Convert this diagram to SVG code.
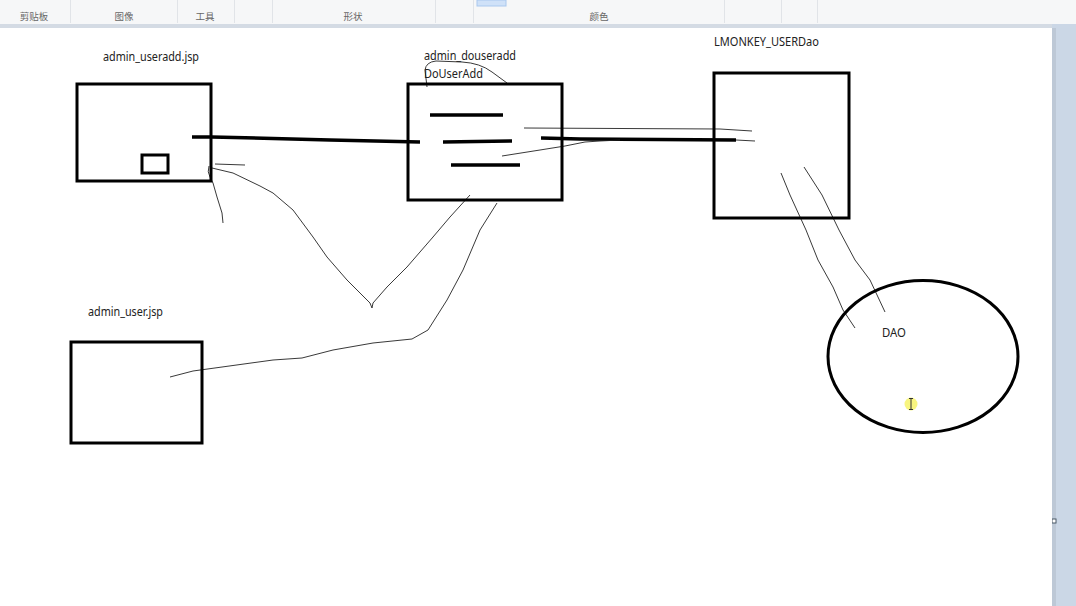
<svg xmlns="http://www.w3.org/2000/svg" width="1076" height="606" viewBox="0 0 1076 606">
  <style>
    .box { fill: none; stroke: #000; stroke-width: 3; }
    .thick { fill: none; stroke: #000; stroke-width: 3.5; stroke-linecap: butt; }
    .thin { fill: none; stroke: #222; stroke-width: 0.9; stroke-linejoin: round; }
    .lbl { font-family: "Noto Sans", "Open Sans", "Liberation Sans", sans-serif; font-size: 12px; fill: #222; }
    .ui { font-family: "Noto Sans CJK SC", "Noto Sans", sans-serif; font-size: 9.5px; fill: #666; text-anchor: middle; }
    .sep { stroke: #e1e4e8; stroke-width: 1; }
  </style>

  <!-- application chrome -->
  <g id="toolbar">
    <rect x="0" y="0" width="1076" height="24" fill="#f6f7f8"/>
    <rect x="0" y="24" width="1076" height="4" fill="#d4dbe4"/>
    <rect x="477" y="0" width="29" height="6" fill="#cfe1f8" stroke="#a9c8ee" stroke-width="1"/>
    <line class="sep" x1="70.5" y1="0" x2="70.5" y2="23"/>
    <line class="sep" x1="177.5" y1="0" x2="177.5" y2="23"/>
    <line class="sep" x1="234.5" y1="0" x2="234.5" y2="23"/>
    <line class="sep" x1="272.5" y1="0" x2="272.5" y2="23"/>
    <line class="sep" x1="435.5" y1="0" x2="435.5" y2="23"/>
    <line class="sep" x1="473.5" y1="0" x2="473.5" y2="23"/>
    <line class="sep" x1="724.5" y1="0" x2="724.5" y2="23"/>
    <line class="sep" x1="781.5" y1="0" x2="781.5" y2="23"/>
    <line class="sep" x1="817.5" y1="0" x2="817.5" y2="23"/>
    <text class="ui" x="34" y="20">剪贴板</text>
    <text class="ui" x="124" y="20">图像</text>
    <text class="ui" x="205" y="20">工具</text>
    <text class="ui" x="353" y="20">形状</text>
    <text class="ui" x="599" y="20">颜色</text>
  </g>
  <g id="sidepanel">
    <rect x="1052" y="24" width="24" height="582" fill="#cbd7e6"/>
    <rect x="1052" y="28" width="4" height="578" fill="#bdc8d6"/>
    <rect x="1052" y="519" width="4" height="4" fill="#fff" stroke="#4a5866" stroke-width="1"/>
  </g>
  <rect id="canvas" x="0" y="28" width="1052" height="578" fill="#ffffff"/>

  <!-- connectors -->
  <g id="connectors">
    <path class="thick" d="M192,137 L212,137 L330,140 L420,142"/>
    <path class="thick" d="M541,138 L580,139 L736,140"/>
    <path class="thin" d="M524,128 L720,129 L752,131"/>
    <path class="thin" d="M502,156 L540,150 L565,146 L585,142 L600,141 L620,140"/>
    <path class="thin" stroke="#999" d="M736,140 L755,141"/>
    <path class="thin" d="M427,87 L425,70 Q426,62 436,61 L462,62 Q480,63 492,72 L507,83"/>
    <path class="thin" d="M215,164 L245,165"/>
    <path class="thin" d="M209,166 Q207,172 210,177 L213,183 L217,197 L222,213 L223,223"/>
    <path class="thin" d="M212,168 L233,173 L260,186 L273,193 L293,210 L313,237 L327,257 L347,280 L370,303 L372,308 L373,303 L387,287 L407,267 L433,237 L450,217 L470,195"/>
    <path class="thin" d="M497,203 L480,230 L463,270 L447,300 L428,330 L412,339 L373,343 L333,350 L302,358 L273,360 L193,371 L170,377"/>
    <path class="thin" d="M781,173 L790,195 L806,230 L818,260 L833,287 L843,310 L855,328"/>
    <path class="thin" d="M804,167 L822,195 L839,230 L855,260 L870,280 L885,312"/>
  </g>

  <!-- nodes -->
  <g id="admin_useradd">
    <rect class="box" x="77" y="84" width="134" height="97"/>
    <rect class="box" x="142" y="155" width="26" height="18" stroke-width="2.5"/>
    <text class="lbl" x="103" y="61" textLength="96" lengthAdjust="spacingAndGlyphs">admin_useradd.jsp</text>
  </g>
  <g id="admin_douseradd">
    <rect class="box" x="408" y="84" width="154" height="116"/>
    <line class="thick" x1="430" y1="115" x2="503" y2="115"/>
    <line class="thick" x1="443" y1="142" x2="512" y2="141"/>
    <line class="thick" x1="451" y1="165" x2="520" y2="165"/>
    <text class="lbl" x="424" y="60" textLength="92" lengthAdjust="spacingAndGlyphs">admin_douseradd</text>
    <text class="lbl" x="424" y="78" textLength="59" lengthAdjust="spacingAndGlyphs">DoUserAdd</text>
  </g>
  <g id="lmonkey_userdao">
    <rect class="box" x="714" y="73" width="135" height="145"/>
    <text class="lbl" x="714" y="46" textLength="105" lengthAdjust="spacingAndGlyphs">LMONKEY_USERDao</text>
  </g>
  <g id="dao">
    <ellipse class="box" cx="923" cy="356.5" rx="95" ry="76"/>
    <text class="lbl" x="882" y="337" textLength="24" lengthAdjust="spacingAndGlyphs">DAO</text>
  </g>
  <g id="admin_user">
    <rect class="box" x="71" y="342" width="131" height="101"/>
    <text class="lbl" x="88" y="316" textLength="75" lengthAdjust="spacingAndGlyphs">admin_user.jsp</text>
  </g>

  <!-- mouse cursor highlight -->
  <g id="cursor">
    <circle cx="911" cy="404" r="6.5" fill="#f7f36a" opacity="0.85"/>
    <path d="M909,398.5 H913 M911,398.5 V409.5 M909,409.5 H913" stroke="#333" stroke-width="1" fill="none"/>
  </g>
</svg>
